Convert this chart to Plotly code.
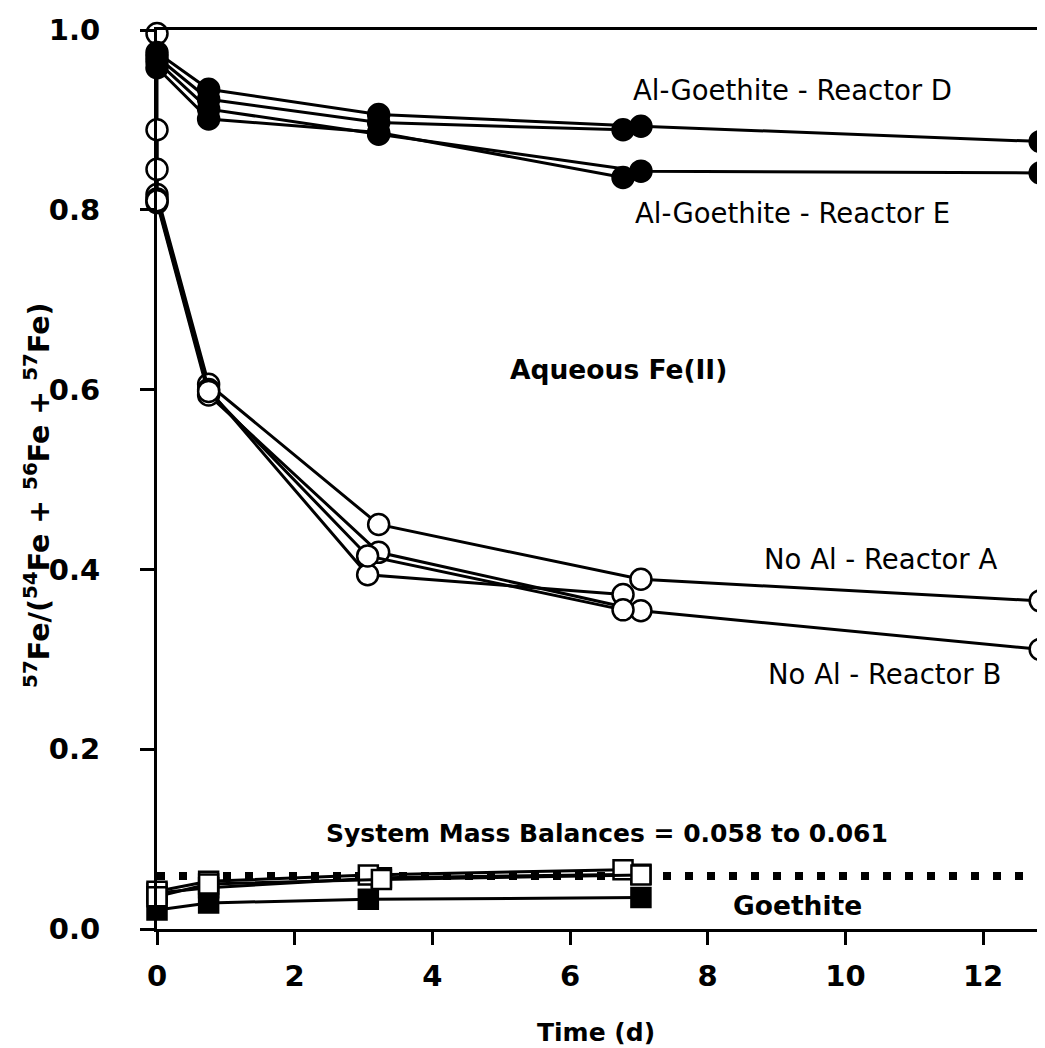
import plotly.graph_objects as go

# ---- data (time in days, 57Fe fraction) ----
# Al-Goethite, aqueous Fe(II) (solid circles)
d1_t = [0, 0.75, 3.22, 7.03, 12.83]
d1_v = [0.975, 0.934, 0.906, 0.893, 0.876]
d2_t = [0, 0.75, 3.22, 6.77]
d2_v = [0.970, 0.923, 0.897, 0.889]
e1_t = [0, 0.75, 3.22, 7.03, 12.83]
e1_v = [0.965, 0.912, 0.884, 0.843, 0.841]
e2_t = [0, 0.75, 3.22, 6.77]
e2_v = [0.958, 0.901, 0.886, 0.836]

# No Al, aqueous Fe(II) (open circles)
a1_t = [0, 0, 0.75, 3.22, 7.03, 12.83]
a1_v = [0.996, 0.817, 0.606, 0.450, 0.389, 0.365]
a2_t = [0, 0, 0.75, 3.06, 6.77]
a2_v = [0.889, 0.812, 0.600, 0.394, 0.372]
b1_t = [0, 0, 0.75, 3.22, 7.03, 12.83]
b1_v = [0.845, 0.808, 0.594, 0.419, 0.354, 0.311]
b2_t = [0, 0.75, 3.06, 6.77]
b2_v = [0.810, 0.598, 0.415, 0.355]

# Goethite (squares)
q1_t = [0, 0.75, 3.07, 6.77]
q1_v = [0.042, 0.053, 0.060, 0.066]
q2_t = [0, 0.75, 3.26, 7.03]
q2_v = [0.036, 0.050, 0.055, 0.060]
q3_t = [0, 0.75, 3.26, 7.03]
q3_v = [0.040, 0.046, 0.057, 0.061]
q4_t = [0, 0.75, 3.07, 7.03]
q4_v = [0.021, 0.029, 0.033, 0.035]

mass_balance = 0.059
x_ticks = [0, 2, 4, 6, 8, 10, 12]
y_ticks = [0.0, 0.2, 0.4, 0.6, 0.8, 1.0]

fig = go.Figure()

def add(t, v, symbol, fill, size):
    fig.add_trace(go.Scatter(
        x=t, y=v, mode="lines+markers", cliponaxis=False,
        line=dict(color="black", width=3),
        marker=dict(symbol=symbol, size=size, color=fill,
                    line=dict(color="black", width=2.5)),
        showlegend=False))

# dotted mass balance line
fig.add_trace(go.Scatter(x=[0, 12.95], y=[mass_balance, mass_balance], mode="lines",
                         cliponaxis=False,
                         line=dict(color="black", width=8, dash="8px,14px"),
                         showlegend=False))

for t, v in [(q4_t, q4_v), (q3_t, q3_v)]:
    add(t, v, "square", "black", 19)
for t, v in [(q1_t, q1_v), (q2_t, q2_v)]:
    add(t, v, "square", "white", 19)
for t, v in [(a1_t, a1_v), (a2_t, a2_v), (b1_t, b1_v), (b2_t, b2_v)]:
    add(t, v, "circle", "white", 21)
for t, v in [(d1_t, d1_v), (d2_t, d2_v), (e1_t, e1_v), (e2_t, e2_v)]:
    add(t, v, "circle", "black", 21)

FONT = "DejaVu Sans"
ann = [
    (9.23, 0.933, "Al-Goethite - Reactor D", 27.5),
    (9.23, 0.797, "Al-Goethite - Reactor E", 27.5),
    (6.70, 0.622, "<b>Aqueous Fe(II)</b>", 26.5),
    (10.51, 0.412, "No Al - Reactor A", 27.5),
    (10.57, 0.284, "No Al - Reactor B", 27.5),
    (6.54, 0.106, "<b>System Mass Balances = 0.058 to 0.061</b>", 25),
    (9.30, 0.026, "<b>Goethite</b>", 26.5),
]
for x, y, txt, sz in ann:
    fig.add_annotation(x=x, y=y, text=txt, showarrow=False, xref="x", yref="y",
                       font=dict(family=FONT, size=sz, color="black"))

fig.add_annotation(x=-0.135, y=0.483, xref="paper", yref="paper", textangle=-90,
                   showarrow=False, xanchor="center", yanchor="middle",
                   text="<b><sup>57</sup>Fe/(<sup>54</sup>Fe + <sup>56</sup>Fe + <sup>57</sup>Fe)</b>",
                   font=dict(family=FONT, size=28.5, color="black"))

fig.add_annotation(x=0.494, y=-0.115, xref="paper", yref="paper", showarrow=False,
                   xanchor="center", yanchor="middle", text="<b>Time (d)</b>",
                   font=dict(family=FONT, size=25, color="black"))

fig.update_layout(
    width=1037, height=1040,
    margin=dict(l=149, r=0, t=22, b=119),
    plot_bgcolor="white", paper_bgcolor="white",
    xaxis=dict(range=[0, 12.9], tickvals=x_ticks, ticktext=[str(v) for v in x_ticks],
               showline=True, linecolor="black", linewidth=3, mirror=True,
               ticks="outside", ticklen=13, tickwidth=2.5, tickcolor="black",
               showgrid=False, zeroline=False, ticklabelstandoff=6,
               tickfont=dict(family=FONT, size=29, color="black", weight="bold")),
    yaxis=dict(range=[0, 1], tickvals=y_ticks, ticktext=[f"{v:.1f}" for v in y_ticks],
               showline=True, linecolor="black", linewidth=3, mirror=False,
               ticks="outside", ticklen=14, tickwidth=2.5, tickcolor="black",
               showgrid=False, zeroline=False, ticklabelstandoff=34,
               tickfont=dict(family=FONT, size=29, color="black", weight="bold")),
)

fig.write_html("out.html")
